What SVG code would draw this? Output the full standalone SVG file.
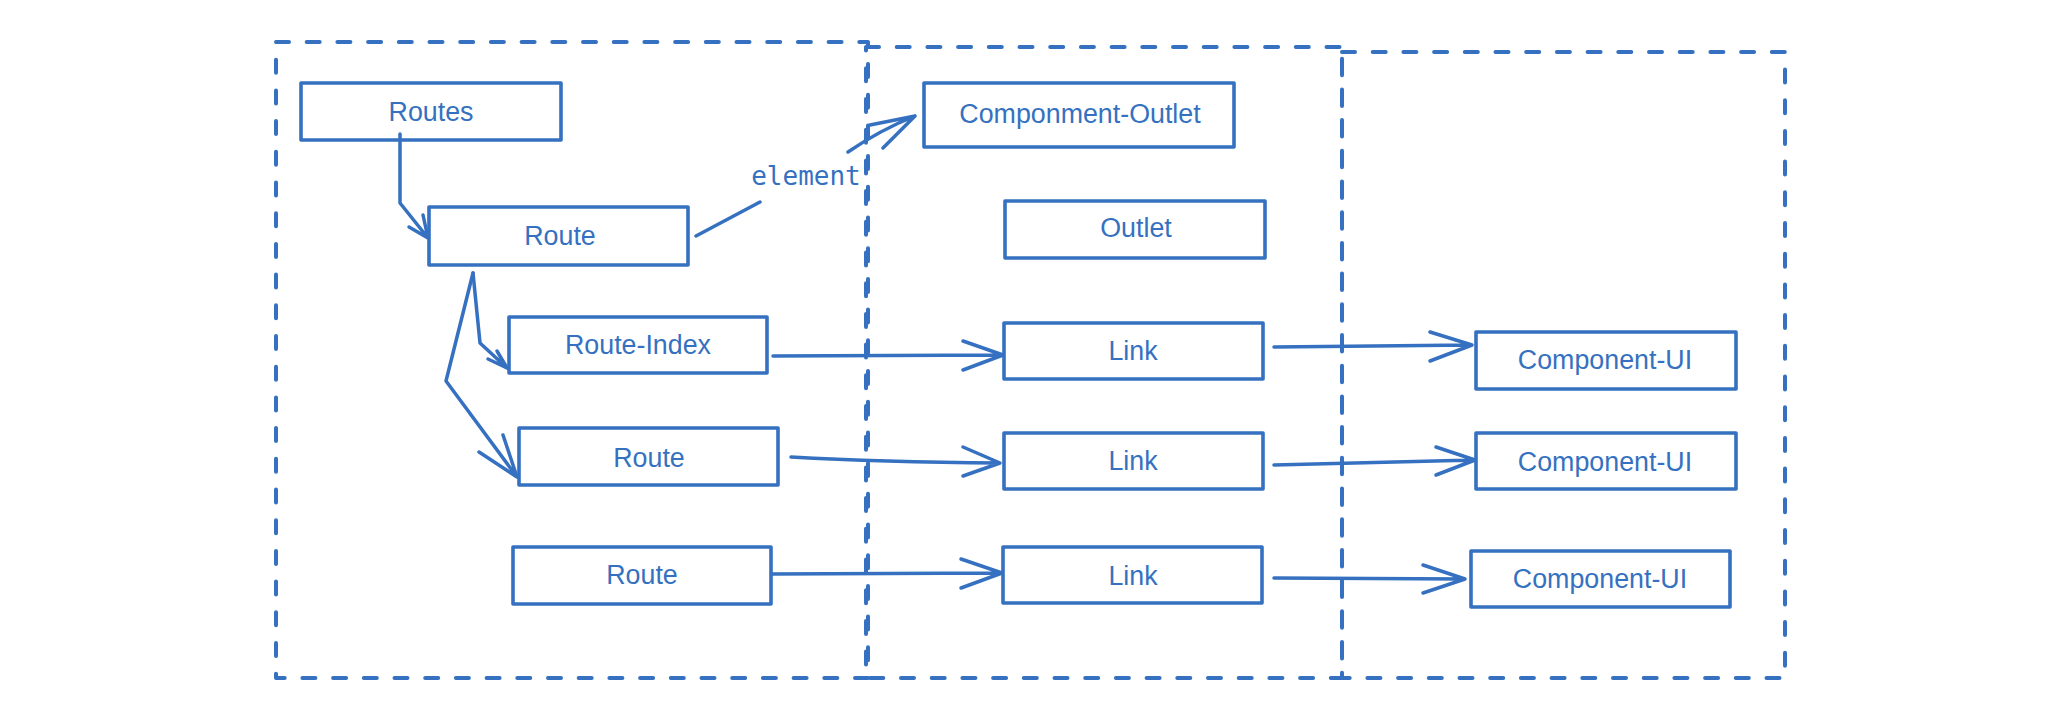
<svg xmlns="http://www.w3.org/2000/svg" width="2072" height="706" viewBox="0 0 2072 706">
<style>
.frame{fill:none;stroke:#3571c0;stroke-width:4;stroke-dasharray:13 17.7;stroke-linecap:round;stroke-linejoin:round}
.box{fill:none;stroke:#3571c0;stroke-width:3.6;stroke-linejoin:round}
.lbl{font-family:"Liberation Sans",Arial,sans-serif;font-size:26.8px;fill:#3571c0;text-anchor:middle}
.code{font-family:"DejaVu Sans Mono","Liberation Mono",monospace;font-size:26px;fill:#3571c0;text-anchor:middle}
.ln{fill:none;stroke:#3571c0;stroke-width:3.5;stroke-linecap:round;stroke-linejoin:round}
</style>
<rect width="2072" height="706" fill="#ffffff"/>
<g id="frames">
<path class="frame" d="M276,42 L868,42 L868,678 L276,678 Z"/>
<path class="frame" d="M866,47 L1342,47 L1342,678 L866,678 Z"/>
<path class="frame" d="M1342,52 L1785,52 L1785,678 L1342,678 Z"/>
</g>
<g id="routes"><rect class="box" x="301" y="83" width="260" height="57"/><text class="lbl" x="431" y="121">Routes</text></g>
<g id="route1"><rect class="box" x="429" y="207" width="259" height="58"/><text class="lbl" x="560" y="245">Route</text></g>
<g id="route-index"><rect class="box" x="509" y="317" width="258" height="56"/><text class="lbl" x="638" y="354">Route-Index</text></g>
<g id="route2"><rect class="box" x="519" y="428" width="259" height="57"/><text class="lbl" x="649" y="467">Route</text></g>
<g id="route3"><rect class="box" x="513" y="547" width="258" height="57"/><text class="lbl" x="642" y="584">Route</text></g>
<g id="component-outlet"><rect class="box" x="924" y="83" width="310" height="64"/><text class="lbl" x="1080" y="123">Componment-Outlet</text></g>
<g id="outlet"><rect class="box" x="1005" y="201" width="260" height="57"/><text class="lbl" x="1136" y="237">Outlet</text></g>
<g id="link1"><rect class="box" x="1004" y="323" width="259" height="56"/><text class="lbl" x="1133" y="360">Link</text></g>
<g id="link2"><rect class="box" x="1004" y="433" width="259" height="56"/><text class="lbl" x="1133" y="470">Link</text></g>
<g id="link3"><rect class="box" x="1003" y="547" width="259" height="56"/><text class="lbl" x="1133" y="585">Link</text></g>
<g id="ui1"><rect class="box" x="1476" y="332" width="260" height="57"/><text class="lbl" x="1605" y="369">Component-UI</text></g>
<g id="ui2"><rect class="box" x="1476" y="433" width="260" height="56"/><text class="lbl" x="1605" y="471">Component-UI</text></g>
<g id="ui3"><rect class="box" x="1471" y="551" width="259" height="56"/><text class="lbl" x="1600" y="588">Component-UI</text></g>
<g id="connectors">
<path class="ln" d="M400,134 L400,203 L428,238 M409,227 L428,238 L423,215"/>
<path class="ln" d="M696,236 L760,202 M848,152 Q880,130 915,116 M870,125 L915,116 L883,148"/>
<text class="code" x="806" y="185">element</text>
<path class="ln" d="M473,273 L480,343 L507,368 M488,359 L507,368 L497,351"/>
<path class="ln" d="M473,273 L446,381 L517,477 M479,452 L517,477 L503,435"/>
<path class="ln" d="M773,356 L1003,355 M963,341 L1003,355 L963,370"/>
<path class="ln" d="M791,457 Q880,462 1000,463 M963,447 L1000,463 L963,476"/>
<path class="ln" d="M772,574 L1002,573 M961,559 L1002,573 L961,588"/>
<path class="ln" d="M1274,347 L1472,345 M1430,332 L1472,345 L1430,361"/>
<path class="ln" d="M1274,465 L1475,460 M1436,447 L1475,460 L1436,475"/>
<path class="ln" d="M1274,578 L1465,579 M1423,565 L1465,579 L1423,593"/>
</g>
</svg>
